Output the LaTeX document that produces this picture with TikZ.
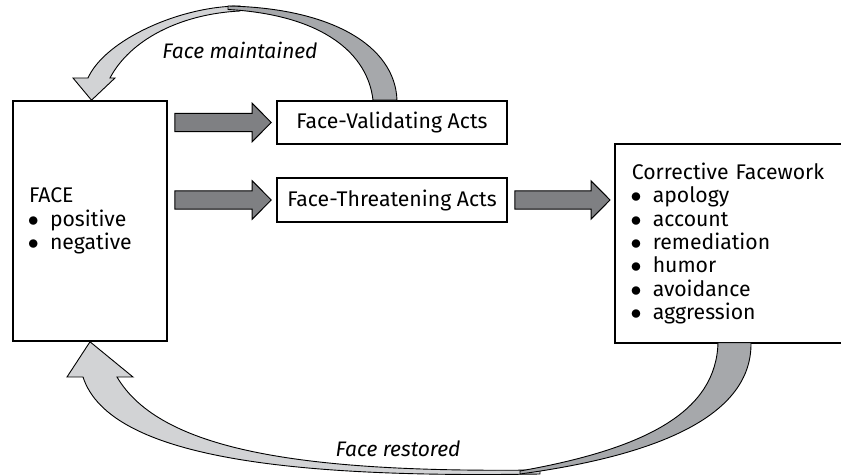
\documentclass[tikz,border=0pt]{standalone}
\usepackage{fontspec}
\setmainfont{Fira Sans}
\usetikzlibrary{calc}

\definecolor{arrowgray}{HTML}{7F8083}
\definecolor{ribbonlight}{HTML}{D2D3D5}
\definecolor{ribbondark}{HTML}{A6A8AB}

\newcommand{\bitem}{\makebox[10.5pt][l]{\hspace{-0.6pt}$\bullet$}}
% block arrow from #1 to #2 (both points on the same height)
\newcommand{\blockarrow}[2]{%
  \draw[blockarr] ($#1+(7,0)$) -- ++(0,-9.2) -- ($#2+(-24,-9.2)$) -- ++(0,-10)
    -- ($#2+(-5,0)$) -- ($#2+(-24,19.2)$) -- ++(0,-10) -- ($#1+(7,9.2)$) -- cycle;}

\tikzset{
  box/.style={draw, thick, fill=white, inner sep=0pt},
  listbox/.style={box, align=left, inner xsep=8pt},
  blockarr/.style={draw=black, fill=arrowgray, line width=0.5pt, line join=miter},
  ribbon/.style={draw=black, line width=0.45pt, line join=miter},
  caption/.style={font=\fontsize{10.5}{12}\selectfont\itshape}
}

\begin{document}
\begin{tikzpicture}[x=0.5pt, y=-0.5pt, font=\fontsize{10.6}{11.65}\selectfont]
  \useasboundingbox (0,0) rectangle (841,475);
  \clip (0,0) rectangle (841,475);

  \node[listbox, text width=61pt, minimum height=120pt] (face) at (90,221)
    {FACE\\ \bitem positive\\ \bitem negative};
  \node[box, minimum width=115pt, minimum height=21.5pt] (fva) at (392,122.5)
    {Face-Validating Acts};
  \node[box, minimum width=115pt, minimum height=22pt] (fta) at (392,200)
    {Face-Threatening Acts};
  % box runs off the right edge of the page
  \node[listbox, draw=none, text width=150pt, minimum height=98.5pt, anchor=west] (cf) at (615,243.5)
    {Corrective Facework\\ \bitem apology\\ \bitem account\\ \bitem remediation\\
     \bitem humor\\ \bitem avoidance\\ \bitem aggression};
  \draw[thick] (cf.north east) -- (cf.north west) -- (cf.south west) -- (cf.south east);

  % straight arrows
  \blockarrow{(face.east |- fva.west)}{(fva.west)}
  \blockarrow{(face.east |- fta.west)}{(fta.west)}
  \blockarrow{(fta.east)}{(fta.east -| cf.west)}

  % face maintained
  \draw[ribbon, fill=ribbonlight] (240,6) .. controls (180,6) and (105,40) .. (88,78)
    -- (73,78) -- ([xshift=0.75pt]face.north) -- (115,78) -- (110,78)
    .. controls (130,40) and (180,14) .. (240,11) -- cycle;
  \draw[ribbon, fill=ribbondark] ([xshift=2.5pt]fva.north)
    .. controls (395,45) and (330,8) .. (228,6) -- (228,9.5)
    .. controls (325,15) and (368,55) .. ([xshift=-9.5pt]fva.north) -- cycle;
  \node[caption] (maint) at (240,50) {Face maintained};

  % face restored
  \draw[ribbon, fill=ribbonlight] (540,474) .. controls (300,478) and (110,460) .. (83,377)
    -- (67,377) -- (face.south) -- (133,377) -- (117,377)
    .. controls (160,450) and (300,473) .. (540,470) -- cycle;
  \draw[ribbon, fill=ribbondark] ([xshift=68pt]cf.south west)
    .. controls (752,415) and (660,455) .. (520,474) -- (520,471)
    .. controls (650,448) and (716,410) .. ([xshift=51.5pt]cf.south west) -- cycle;
  \node[caption] (restored) at (398,449) {Face restored};
\end{tikzpicture}
\end{document}
